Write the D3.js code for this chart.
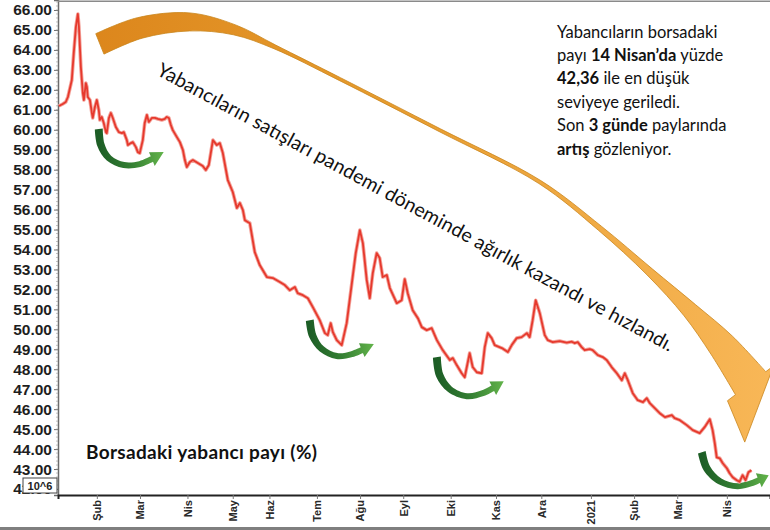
<!DOCTYPE html>
<html>
<head>
<meta charset="utf-8">
<script src="https://cdn.jsdelivr.net/npm/d3@7"></script>
<style>
  body { margin: 0; background: #fff; }
  svg { display: block; font-family: "Liberation Sans", Arial, sans-serif; }
  .note { font-family: Lato, "Open Sans", sans-serif; white-space: pre; }
</style>
</head>
<body>
<svg id="chart" width="770" height="530"></svg>
<script>
// x = trading-day index, 0 = first session of Feb 2020
var days = [-17.6,-15.8,-14.4,-13.4,-11.6,-10.7,-9.7,-8.8,-8.3,-7.4,-6.5,-6.0,-5.1,-4.6,-4.2,-3.2,-2.3,-1.9,-0.9,0,
  0.9,1.4,2.3,3.2,4.2,4.6,5.6,6.5,7.4,8.8,10.2,11.6,12.5,13.9,14.4,15.8,16.7,18.1,19.0,19.9,
  21.3,22.2,23.2,24.1,25.5,26.9,28.3,30.1,31.5,32.4,33.4,34.3,35.2,37.1,38.5,39.9,40.8,41.7,43.1,44.5,
  46.8,49.1,50.5,51.9,53.8,55.6,57.0,58.4,60.7,63.0,64.9,66.3,67.7,68.6,70.9,73.2,75.5,78.8,81.6,84.8,
  87.1,89.4,91.8,93.1,95.5,97.8,100.1,103.3,105.7,107.0,108.4,109.4,111.2,113.5,115.8,118.2,120.0,121.9,123.3,125.1,
  126.5,127.9,129.7,131.1,132.5,134.4,135.8,139.0,141.3,142.7,144.1,146.4,148.8,150.6,152.9,155.2,157.6,160.3,163.6,165.0,
  166.8,169.1,170.5,172.8,174.2,176.1,178.4,179.8,181.2,183.0,184.4,187.7,190.5,192.3,194.6,196.9,199.3,200.6,202.0,203.4,
  205.3,207.6,209.0,211.3,214.5,217.8,220.1,221.5,222.9,224.7,226.1,228.5,229.8,232.2,234.5,236.3,238.6,241.0,243.3,244.7,
  246.1,248.4,250.7,253.1,254.9,256.3,258.6,260.9,263.3,266.5,267.8,270.2,273.4,276.2,279.4,281.7,284.1,285.4,286.4,287.3,
  288.7,290.1,292.0,293.3,294.7,296.6,297.9,299.3,300.7,302.0,303.4];
var share = [61.19,61.29,61.39,61.64,62.49,63.84,65.15,65.80,65.15,63.14,61.84,61.49,62.34,62.14,61.64,61.49,60.84,60.59,61.14,61.49,
  60.99,60.49,60.64,60.34,59.88,59.83,60.59,60.84,60.59,60.14,59.88,59.83,59.88,59.48,59.23,59.33,59.38,59.13,58.88,58.83,
  59.48,60.34,60.74,60.39,60.59,60.59,60.54,60.49,60.54,60.64,60.59,60.24,59.98,59.63,59.38,58.98,58.48,58.13,58.38,58.48,
  58.33,58.18,57.98,58.23,59.48,59.23,59.33,58.83,57.48,56.88,56.08,56.33,55.97,55.47,55.32,53.87,53.22,52.62,52.57,52.37,
  52.22,51.96,52.12,51.81,51.71,51.56,51.11,50.46,49.81,49.71,50.31,49.86,49.46,49.21,50.31,52.32,53.82,54.97,54.32,52.47,
  51.56,52.82,53.82,53.57,52.62,52.72,52.07,51.31,51.46,52.52,51.81,50.96,50.56,50.11,49.96,50.06,49.46,48.96,48.46,48.56,
  48.21,47.80,47.60,48.81,48.11,47.85,47.80,49.11,49.81,49.56,49.21,49.06,48.86,49.21,49.56,49.61,49.81,49.61,50.46,51.46,
  50.81,49.71,49.46,49.36,49.41,49.33,49.38,49.31,49.36,49.11,48.96,49.01,48.96,48.71,48.61,48.46,48.11,47.80,47.45,47.80,
  47.45,46.80,46.45,46.35,46.55,46.30,46.05,45.80,45.60,45.70,45.55,45.45,45.20,44.95,44.80,45.10,45.50,44.95,44.30,43.59,
  43.54,43.29,43.04,42.79,42.59,42.44,42.36,42.69,42.44,42.84,42.94];

var monthLabels = ["Şub","Mar","Nis","May","Haz","Tem","Ağu","Eyl","Eki","Kas","Ara","2021","Şub","Mar","Nis"];
var monthDays = [0,20,42,63,80,102,122,142,164,185,206,229,249,269,292];
var yTicks = [42,43,44,45,46,47,48,49,50,51,52,53,54,55,56,57,58,59,60,61,62,63,64,65,66];

// annotation shapes, in data units (day, %)
var bigArrowPts = [[1.4,64.30],[19.9,65.10],[43.1,65.40],[63.9,65.00],[82.5,64.15],[112.6,62.54],[158.9,59.98],
  [205.3,57.38],[233.1,55.07],[256.3,52.87],[274.8,50.96],[289.6,49.21],[303.0,47.30]];
var bigArrowTip = [300.3,44.35];
var greenArrows = [
  {pts: [[0.9,60.04],[1.9,59.23],[5.6,58.58],[12.5,58.23],[19.9,58.28],[25.5,58.53]], tip: [31.0,58.88]},
  {pts: [[98.7,50.46],[100.1,49.66],[104.3,49.01],[111.2,48.66],[118.2,48.76],[122.8,48.96]], tip: [128.4,49.26]},
  {pts: [[157.6,48.61],[158.9,47.70],[163.6,47.00],[171.5,46.65],[178.9,46.80],[183.5,47.05]], tip: [188.6,47.40]},
  {pts: [[280.4,43.84],[282.7,43.04],[288.7,42.39],[297.0,42.14],[303.5,42.29],[306.8,42.44]], tip: [311.4,42.69]}
];

var noteLines = [
  [["Yabancıların borsadaki", 0]],
  [["payı ", 0], ["14 Nisan’da", 1], [" yüzde", 0]],
  [["42,36", 1], [" ile en düşük", 0]],
  [["seviyeye geriledi.", 0]],
  [["Son ", 0], ["3 günde", 1], [" paylarında", 0]],
  [["artış", 1], [" gözleniyor.", 0]]
];
var trendText = "Yabancıların satışları pandemi döneminde ağırlık kazandı ve hızlandı.";
var seriesTitle = "Borsadaki yabancı payı (%)";

var svg = d3.select('#chart');
var x = d3.scaleLinear().domain([-18, 312]).range([58, 770]);
var y = d3.scaleLinear().domain([41.7, 66.5]).range([495, 0]);

var defs = svg.append('defs');
var og = defs.append('linearGradient').attr('id', 'orangeGrad')
  .attr('gradientUnits', 'userSpaceOnUse').attr('x1', 88).attr('x2', 770).attr('y1', 0).attr('y2', 0);
og.append('stop').attr('offset', 0).attr('stop-color', '#dc861c');
og.append('stop').attr('offset', 0.4).attr('stop-color', '#e69a2c');
og.append('stop').attr('offset', 1).attr('stop-color', '#f8b757');

var curve = d3.line().curve(d3.curveCatmullRom);

// tapered band along a centre line, ending in an arrow head
function arrowPath(pts, widths, tip, extra) {
  var n = pts.length, s1 = [], s2 = [], nx, ny;
  for (var k = 0; k < n; k++) {
    var a = pts[Math.max(k - 1, 0)], b = pts[Math.min(k + 1, n - 1)];
    var dx = b[0] - a[0], dy = b[1] - a[1], len = Math.hypot(dx, dy);
    nx = -dy / len; ny = dx / len;
    var h = widths[k] / 2;
    s1.push([pts[k][0] + nx * h, pts[k][1] + ny * h]);
    s2.push([pts[k][0] - nx * h, pts[k][1] - ny * h]);
  }
  var p = pts[n - 1], hw = widths[n - 1] / 2 + extra;
  var b1 = [p[0] + nx * hw, p[1] + ny * hw], b2 = [p[0] - nx * hw, p[1] - ny * hw];
  return curve(s1) + 'L' + b1 + 'L' + tip + 'L' + b2 + curve(s2.reverse()).replace(/^M/, 'L') + 'Z';
}
function toPx(d) { return [x(d[0]), y(d[1])]; }

// big orange arrow
svg.append('path')
  .attr('d', arrowPath(bigArrowPts.map(toPx), [22,21,18,10,4,3,3,3.5,5,8,16,28,38], toPx(bigArrowTip), 10))
  .attr('fill', 'url(#orangeGrad)')
  .attr('stroke', '#c9851c')
  .attr('stroke-width', 0.8);

// green arrows
greenArrows.forEach(function(g, i) {
  var pts = g.pts.map(toPx), tip = toPx(g.tip);
  var gg = defs.append('linearGradient').attr('id', 'green' + i)
    .attr('gradientUnits', 'userSpaceOnUse')
    .attr('x1', pts[0][0]).attr('x2', tip[0]).attr('y1', 0).attr('y2', 0);
  gg.append('stop').attr('offset', 0).attr('stop-color', '#1d5e26');
  gg.append('stop').attr('offset', 0.5).attr('stop-color', '#347f33');
  gg.append('stop').attr('offset', 1).attr('stop-color', '#62b34a');
  svg.append('path')
    .attr('d', arrowPath(pts, [8,7.5,6.5,6,6,6], tip, 4.5))
    .attr('fill', 'url(#green' + i + ')');
});

// axes
var yAxis = svg.append('g')
  .attr('transform', 'translate(58,0)')
  .call(d3.axisLeft(y).tickValues(yTicks).tickFormat(d3.format('.2f')).tickSize(4).tickPadding(2));
yAxis.select('.domain').attr('stroke', '#6b6b6b').attr('stroke-width', 1.5);
yAxis.selectAll('.tick line').attr('stroke', '#6b6b6b');
yAxis.selectAll('.tick text')
  .attr('fill', '#1e1e1e').attr('font-size', '15.5px').attr('font-weight', 'bold');

svg.append('g').selectAll('line')
  .data(y.ticks(124))
  .enter().append('line')
  .attr('x1', 56).attr('x2', 58)
  .attr('y1', function(d) { return y(d); }).attr('y2', function(d) { return y(d); })
  .attr('stroke', '#999').attr('stroke-width', 0.6);

var xAxis = svg.append('g')
  .attr('transform', 'translate(0,495)')
  .call(d3.axisBottom(x).tickValues(monthDays)
    .tickFormat(function(d, i) { return monthLabels[i]; }).tickSize(4));
xAxis.select('.domain').attr('stroke', '#222').attr('stroke-width', 2);
xAxis.selectAll('.tick line').attr('stroke', '#777');
xAxis.selectAll('.tick text')
  .attr('transform', 'rotate(-90)')
  .attr('text-anchor', 'end')
  .attr('x', -5).attr('y', 0).attr('dy', '0.35em')
  .attr('fill', '#2a2a2a').attr('font-size', '11px').attr('font-weight', 'bold');

// frame bits
svg.append('line').attr('x1', 58).attr('x2', 770).attr('y1', 1.2).attr('y2', 1.2)
  .attr('stroke', '#8a8a8a').attr('stroke-width', 1.5);
svg.append('rect').attr('x', 0).attr('y', 527).attr('width', 770).attr('height', 3).attr('fill', '#7f7f7f');

var unitBox = svg.append('g');
unitBox.append('rect').attr('x', 23).attr('y', 478).attr('width', 34).attr('height', 15)
  .attr('fill', '#fff').attr('stroke', '#444').attr('stroke-width', 1);
unitBox.append('text').attr('x', 40).attr('y', 490).attr('text-anchor', 'middle')
  .attr('font-size', '11px').attr('font-weight', 'bold').attr('fill', '#222').text('10^6');

// the series
var line = d3.line()
  .x(function(d, i) { return x(days[i]); })
  .y(function(d) { return y(d); });
svg.append('path').datum(share).attr('d', line)
  .attr('fill', 'none').attr('stroke', '#f3a39b').attr('stroke-width', 3.6).attr('stroke-linejoin', 'round');
svg.append('path').datum(share).attr('d', line)
  .attr('fill', 'none').attr('stroke', '#e6392d').attr('stroke-width', 1.8).attr('stroke-linejoin', 'round');

// texts
svg.append('text').attr('class', 'note')
  .attr('transform', 'translate(155.6,74.3) rotate(28.4)')
  .attr('font-size', '19.5px').attr('fill', '#111')
  .attr('textLength', 584).attr('lengthAdjust', 'spacing')
  .text(trendText);

svg.append('text').attr('class', 'note')
  .attr('x', 86).attr('y', 459)
  .attr('font-size', '19px').attr('font-weight', 'bold').attr('fill', '#111')
  .attr('textLength', 231).attr('lengthAdjust', 'spacing')
  .text(seriesTitle);

var note = svg.append('text').attr('class', 'note')
  .attr('font-size', '16.5px').attr('fill', '#111');
noteLines.forEach(function(parts, i) {
  parts.forEach(function(p, j) {
    var t = note.append('tspan').text(p[0]).attr('font-weight', p[1] ? 'bold' : 'normal');
    if (j === 0) t.attr('x', 557).attr('y', 37.5 + i * 23.4);
  });
});
</script>
</body>
</html>
